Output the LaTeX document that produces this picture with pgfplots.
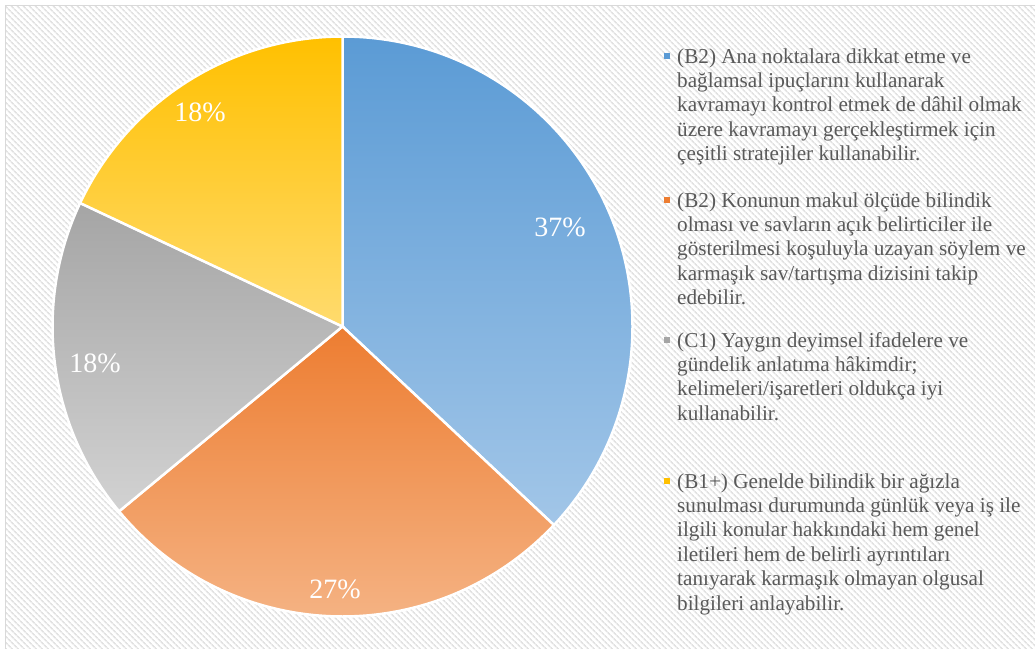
\documentclass[border=0pt]{standalone}
\usepackage{pgfplots}
\pgfplotsset{compat=1.18}
\usepackage{pgfplotstable}
\usepackage{fontspec}
\setmainfont{Liberation Serif}
\usetikzlibrary{patterns.meta}
\definecolor{textgray}{HTML}{595959}
\definecolor{bordergray}{HTML}{D9D9D9}
\definecolor{stripe}{HTML}{E2E2E2}
\definecolor{blueT}{HTML}{5B9BD5}\definecolor{blueB}{HTML}{A2C6E8}
\definecolor{oranT}{HTML}{ED7D31}\definecolor{oranB}{HTML}{F5B587}
\definecolor{grayT}{HTML}{A5A5A5}\definecolor{grayB}{HTML}{D2D2D2}
\definecolor{yellT}{HTML}{FFC000}\definecolor{yellB}{HTML}{FFDB6E}

\pgfplotstableread{
label value
B2a 37
B2b 27
C1 18
B1p 18
}\piedata

\begin{document}
\begin{tikzpicture}
\pgfplotstablegetelem{0}{value}\of\piedata\pgfmathsetmacro\va{\pgfplotsretval}
\pgfplotstablegetelem{1}{value}\of\piedata\pgfmathsetmacro\vb{\pgfplotsretval}
\pgfplotstablegetelem{2}{value}\of\piedata\pgfmathsetmacro\vc{\pgfplotsretval}
\pgfplotstablegetelem{3}{value}\of\piedata\pgfmathsetmacro\vd{\pgfplotsretval}
\pgfmathsetmacro\aA{90}
\pgfmathsetmacro\aB{\aA-3.6*\va}
\pgfmathsetmacro\aC{\aB-3.6*\vb}
\pgfmathsetmacro\aD{\aC-3.6*\vc}
\pgfmathsetmacro\aE{\aD-3.6*\vd}
\begin{axis}[
  x=1pt, y=1pt, y dir=reverse,
  xmin=0, xmax=1035, ymin=0, ymax=648,
  hide axis, clip=true,
]
% background
\fill[white] (axis cs:0,0) rectangle (axis cs:1035,648);
\fill[pattern={Lines[angle=-45,distance=4pt,line width=1.7pt]}, pattern color=stripe]
  (axis cs:5,5) rectangle (axis cs:1035,648);
\draw[bordergray, line width=1.5pt] (axis cs:5.5,700) -- (axis cs:5.5,5.5) -- (axis cs:1100,5.5);
% pie slices
\path[draw=white, line width=2.5pt, top color=blueT, bottom color=blueB]
  (axis cs:342.5,326.5) -- ++(\aA:290pt) arc[start angle=\aA, end angle=\aB, radius=290pt] -- cycle;
\path[draw=white, line width=2.5pt, top color=oranT, bottom color=oranB]
  (axis cs:342.5,326.5) -- ++(\aB:290pt) arc[start angle=\aB, end angle=\aC, radius=290pt] -- cycle;
\path[draw=white, line width=2.5pt, top color=grayT, bottom color=grayB]
  (axis cs:342.5,326.5) -- ++(\aC:290pt) arc[start angle=\aC, end angle=\aD, radius=290pt] -- cycle;
\path[draw=white, line width=2.5pt, top color=yellT, bottom color=yellB]
  (axis cs:342.5,326.5) -- ++(\aD:290pt) arc[start angle=\aD, end angle=\aE, radius=290pt] -- cycle;
% percentage labels
\tikzset{pct/.style={white, inner sep=0pt, anchor=center, font=\fontsize{28}{30}\selectfont}}
\node[pct] at (axis cs:560,227) {37\%};
\node[pct] at (axis cs:335,589) {27\%};
\node[pct] at (axis cs:95,363) {18\%};
\node[pct] at (axis cs:200,112) {18\%};
% legend
\tikzset{lg/.style={textgray, inner sep=0pt, anchor=base west, font=\fontsize{21.2}{24}\selectfont}}
\fill[blueT] (axis cs:664,53) rectangle (axis cs:670,59);
\node[lg] at (axis cs:677,63) {(B2) Ana noktalara dikkat etme ve};
\node[lg] at (axis cs:677,87.4) {bağlamsal ipuçlarını kullanarak};
\node[lg] at (axis cs:677,111.8) {kavramayı kontrol etmek de dâhil olmak};
\node[lg] at (axis cs:677,136.2) {üzere kavramayı gerçekleştirmek için};
\node[lg] at (axis cs:677,160.6) {çeşitli stratejiler kullanabilir.};
\fill[oranT] (axis cs:664,197) rectangle (axis cs:670,203);
\node[lg] at (axis cs:677,207) {(B2) Konunun makul ölçüde bilindik};
\node[lg] at (axis cs:677,231.4) {olması ve savların açık belirticiler ile};
\node[lg] at (axis cs:677,255.8) {gösterilmesi koşuluyla uzayan söylem ve};
\node[lg] at (axis cs:677,280.2) {karmaşık sav/tartışma dizisini takip};
\node[lg] at (axis cs:677,304.6) {edebilir.};
\fill[grayT] (axis cs:664,337) rectangle (axis cs:670,343);
\node[lg] at (axis cs:677,347) {(C1) Yaygın deyimsel ifadelere ve};
\node[lg] at (axis cs:677,371.4) {gündelik anlatıma hâkimdir;};
\node[lg] at (axis cs:677,395.8) {kelimeleri/işaretleri oldukça iyi};
\node[lg] at (axis cs:677,420.2) {kullanabilir.};
\fill[yellT] (axis cs:664,478) rectangle (axis cs:670,484);
\node[lg] at (axis cs:677,488) {(B1+) Genelde bilindik bir ağızla};
\node[lg] at (axis cs:677,512.4) {sunulması durumunda günlük veya iş ile};
\node[lg] at (axis cs:677,536.8) {ilgili konular hakkındaki hem genel};
\node[lg] at (axis cs:677,561.2) {iletileri hem de belirli ayrıntıları};
\node[lg] at (axis cs:677,585.6) {tanıyarak karmaşık olmayan olgusal};
\node[lg] at (axis cs:677,610) {bilgileri anlayabilir.};
\end{axis}
\end{tikzpicture}
\end{document}
